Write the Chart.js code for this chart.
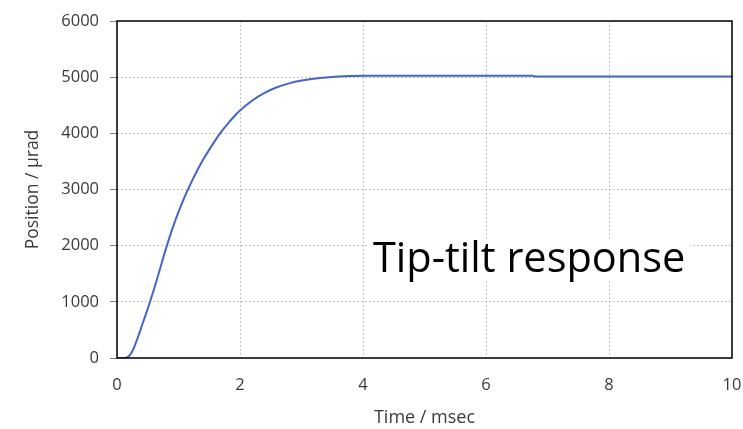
<!DOCTYPE html>
<html>
<head>
<meta charset="utf-8">
<script src="https://cdn.jsdelivr.net/npm/chart.js@4.4.0/dist/chart.umd.min.js"></script>
<style>
  html, body { margin: 0; padding: 0; background: #fff; }
</style>
</head>
<body>
<canvas id="chart" width="743" height="429"></canvas>
<script>
// time (msec) and position (µrad)
var timeMs = [0, 0.1, 0.15, 0.2, 0.25, 0.3, 0.35, 0.4, 0.45, 0.5, 0.6, 0.7, 0.8, 0.9, 1.0, 1.1, 1.2, 1.3, 1.4, 1.5, 1.6, 1.7, 1.8, 1.9, 2.0, 2.1, 2.2, 2.4, 2.6, 2.8, 3.0, 3.2, 3.4, 3.6, 3.8, 4.0, 5.0, 6.0, 6.75, 6.8, 8.0, 10.0];
var position = [0, 0, 5, 40, 120, 250, 400, 560, 720, 880, 1220, 1590, 1960, 2300, 2600, 2870, 3110, 3330, 3530, 3710, 3880, 4035, 4170, 4295, 4405, 4500, 4585, 4720, 4820, 4890, 4940, 4972, 4995, 5010, 5020, 5025, 5026, 5025, 5025, 5010, 5010, 5010];
var yTicks = [0, 1000, 2000, 3000, 4000, 5000, 6000];
var xTicks = [0, 2, 4, 6, 8, 10];

var points = timeMs.map(function(t, i) { return { x: t, y: position[i] }; });

var frame = {
    id: 'frame',
    afterDraw: function(chart) {
        var ctx = chart.ctx;
        var a = chart.chartArea;
        ctx.save();
        ctx.strokeStyle = '#000';
        ctx.lineWidth = 1.5;
        ctx.strokeRect(a.left, a.top, a.right - a.left, a.bottom - a.top);
        // the annotation text sits on a white box
        ctx.font = '41.5px "Open Sans"';
        var txt = 'Tip-tilt response';
        var w = ctx.measureText(txt).width;
        ctx.fillStyle = '#fff';
        ctx.fillRect(368, 238, w + 10, 44);
        ctx.fillStyle = '#000';
        ctx.textBaseline = 'alphabetic';
        ctx.fillText(txt, 373, 272);
        ctx.restore();
    }
};

var chart = new Chart(document.getElementById('chart').getContext('2d'), {
    type: 'line',
    data: {
        datasets: [{
            data: points,
            borderColor: '#4266c2',
            borderWidth: 2,
            pointRadius: 0,
            fill: false,
            cubicInterpolationMode: 'monotone'
        }]
    },
    options: {
        responsive: false,
        animation: false,
        layout: { padding: { top: 21, right: 11, left: 0, bottom: 0 } },
        plugins: { legend: { display: false }, tooltip: { enabled: false } },
        scales: {
            x: {
                type: 'linear',
                min: 0,
                max: 10,
                afterBuildTicks: function(axis) {
                    axis.ticks = xTicks.map(function(v) { return { value: v }; });
                },
                afterFit: function(axis) {
                    axis.height = 71;
                    axis.paddingLeft = 0;
                    axis.paddingRight = 0;
                },
                grid: { color: '#c4c4c4', drawTicks: false },
                border: { display: false, dash: [2, 2] },
                ticks: { color: '#3a3a3a', font: { family: 'Open Sans', size: 16.5 }, padding: 17, maxRotation: 0 },
                title: { display: true, text: 'Time / msec', color: '#3a3a3a', font: { family: 'Open Sans', size: 18 }, padding: { top: 0, bottom: 0 } }
            },
            y: {
                min: 0,
                max: 6000,
                afterBuildTicks: function(axis) {
                    axis.ticks = yTicks.map(function(v) { return { value: v }; });
                },
                afterFit: function(axis) { axis.width = 117; },
                grid: { color: '#c4c4c4', tickColor: '#808080', tickLength: 7 },
                border: { display: false, dash: [2, 2] },
                ticks: {
                    color: '#3a3a3a',
                    font: { family: 'Open Sans', size: 16.5 },
                    padding: 11,
                    callback: function(v) { return String(v); }
                },
                title: { display: true, text: 'Position / µrad', color: '#3a3a3a', font: { family: 'Open Sans', size: 17.5 }, padding: { top: 23, bottom: 0 } }
            }
        }
    },
    plugins: [frame]
});
</script>
</body>
</html>
